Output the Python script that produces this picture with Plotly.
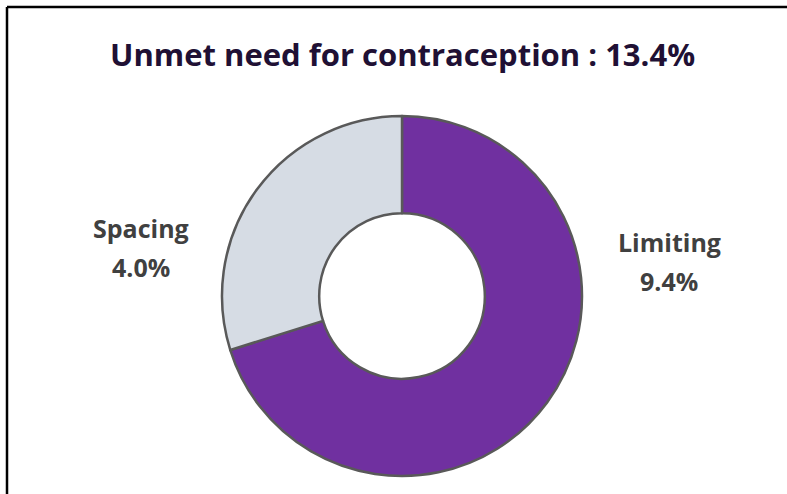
import plotly.graph_objects as go

# Unmet need for contraception, split by reason (percent of women)
categories = ["Limiting", "Spacing"]
values = [9.4, 4.0]
colors = ["#7030A0", "#D6DCE4"]
total = round(sum(values), 1)

W, H = 787, 494

fig = go.Figure()
fig.add_trace(go.Pie(
    labels=categories,
    values=values,
    hole=0.46,
    sort=False,
    direction="clockwise",
    rotation=0,
    textinfo="none",
    hoverinfo="label+value",
    marker=dict(colors=colors, line=dict(color="#595959", width=2.5)),
    domain=dict(x=[222 / W, 582 / W], y=[18 / H, 378 / H]),
    showlegend=False,
))

label_font = dict(family="Open Sans", size=25, color="#404040")
# (x, name y, value y) in pixels
label_pos = {"Spacing": (141, 228, 267), "Limiting": (669, 242, 281)}
annotations = []
for c, v in zip(categories, values):
    x, yn, yv = label_pos[c]
    for txt, yy in ((c, yn), (f"{v:.1f}%", yv)):
        annotations.append(dict(
            text=f"<b>{txt}</b>",
            x=x / W, y=1 - yy / H,
            xref="paper", yref="paper", showarrow=False,
            font=label_font, align="center",
            xanchor="center", yanchor="middle",
        ))
annotations.append(dict(
    text=f"<b>Unmet need for contraception : {total}%</b>",
    x=402 / W, y=1 - 54 / H, xref="paper", yref="paper", showarrow=False,
    font=dict(family="Open Sans", size=31, color="#201034"),
    xanchor="center", yanchor="middle",
))

# Chart frame: left and top edges
x0 = 7 / W
y0 = 1 - 7 / H
shapes = [
    dict(type="line", xref="paper", yref="paper", x0=x0, x1=x0, y0=-0.01, y1=y0,
         line=dict(color="black", width=2.5)),
    dict(type="line", xref="paper", yref="paper", x0=x0, x1=1.01, y0=y0, y1=y0,
         line=dict(color="black", width=2.5)),
]

fig.update_layout(
    width=W, height=H,
    margin=dict(l=0, r=0, t=0, b=0),
    paper_bgcolor="white",
    plot_bgcolor="white",
    annotations=annotations,
    shapes=shapes,
)

fig.write_html("out.html")
